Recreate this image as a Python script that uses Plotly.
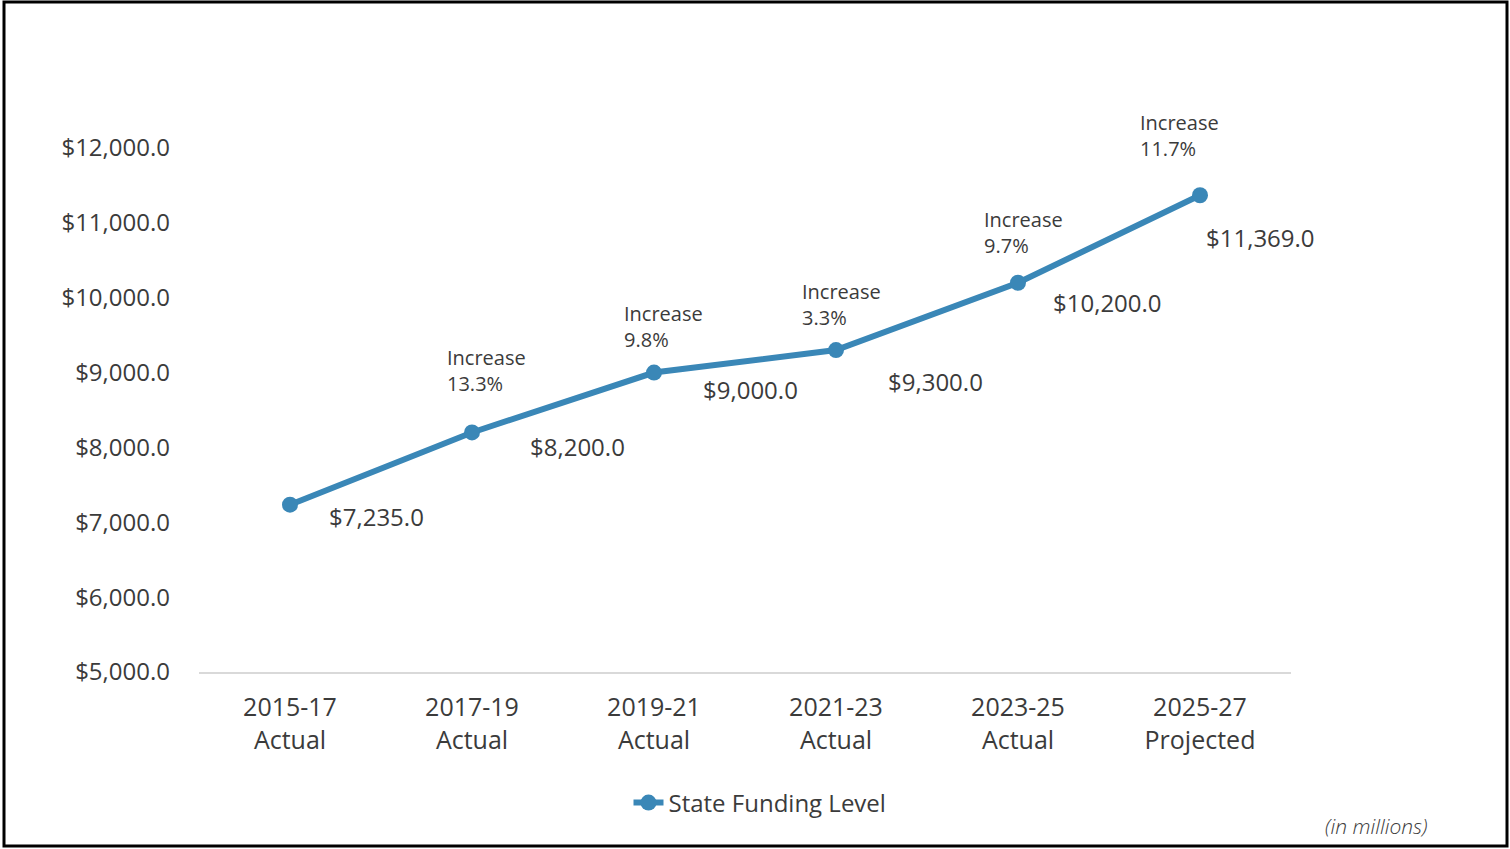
import plotly.graph_objects as go

periods = ["2015-17", "2017-19", "2019-21", "2021-23", "2023-25", "2025-27"]
statuses = ["Actual", "Actual", "Actual", "Actual", "Actual", "Projected"]
funding = [7235.0, 8200.0, 9000.0, 9300.0, 10200.0, 11369.0]
increase_pct = [None, 13.3, 9.8, 3.3, 9.7, 11.7]
y_ticks = [5000, 6000, 7000, 8000, 9000, 10000, 11000, 12000]

categories = [f"{p}<br>{s}" for p, s in zip(periods, statuses)]

LINE = "#3A87B7"
TXT = "#3b3b3b"
FONT = "Open Sans"

# label offsets in pixels (styling only; positive dy = downward)
val_shift = [(86, 12), (105, 14), (96, 17), (99, 31), (89, 20), (60, 42)]
inc_shift = [None, (-27, -62), (-32, -46), (-36, -46), (-36, -50), (-62, -60)]

fig = go.Figure()
fig.add_trace(go.Scatter(
    x=list(range(len(categories))), y=funding, mode="lines+markers",
    name="State Funding Level",
    line=dict(color=LINE, width=6),
    marker=dict(color=LINE, size=16),
    hoverinfo="skip",
))

annotations = []
for i, v in enumerate(funding):
    dx, dy = val_shift[i]
    annotations.append(dict(
        x=i, y=v, xref="x", yref="y", text=f"${v:,.1f}", showarrow=False,
        xshift=dx, yshift=-dy, font=dict(family=FONT, size=24, color=TXT),
        xanchor="center", yanchor="middle",
    ))
    if increase_pct[i] is not None:
        sx, sy = inc_shift[i]
        annotations.append(dict(
            x=i, y=v, xref="x", yref="y",
            text=f"Increase<br>{increase_pct[i]:.1f}%", showarrow=False,
            xshift=sx, yshift=-sy, align="left",
            font=dict(family=FONT, size=20, color=TXT),
            xanchor="left", yanchor="middle",
        ))

annotations.append(dict(
    x=(1430 - 199) / 1092, y=(672 - 826) / 561, xref="paper", yref="paper",
    text="<i>(in millions)</i>", showarrow=False, xanchor="right", yanchor="middle",
    font=dict(family=FONT, size=21, color="#404040", weight=300),
))

fig.update_layout(
    width=1510, height=849,
    margin=dict(l=199, r=219, t=111, b=177),
    paper_bgcolor="white", plot_bgcolor="white",
    font=dict(family=FONT, color=TXT),
    showlegend=True,
    legend=dict(
        orientation="h", x=(760 - 199) / 1092, xanchor="center",
        y=(672 - 803) / 561, yanchor="middle",
        font=dict(family=FONT, size=24, color=TXT),
    ),
    annotations=annotations,
    shapes=[dict(
        type="rect", xref="paper", yref="paper",
        x0=(4 - 199) / 1092, x1=(1507 - 199) / 1092,
        y0=(672 - 846) / 561, y1=(672 - 2) / 561,
        line=dict(color="black", width=3),
    )],
)

fig.update_xaxes(
    range=[-0.5, 5.5], tickmode="array", tickvals=list(range(len(categories))),
    ticktext=categories, showgrid=False, zeroline=False,
    showline=True, linecolor="#d9d9d9", linewidth=2,
    tickfont=dict(family=FONT, size=25, color=TXT), ticks="",
    ticklabelstandoff=12,
)
fig.update_yaxes(
    range=[5000, 5000 + 561 / 74.86 * 1000], tickmode="array", tickvals=y_ticks,
    tickformat="$,.1f", showgrid=False, zeroline=False, showline=False,
    tickfont=dict(family=FONT, size=24, color=TXT), ticks="",
    ticklabelstandoff=28,
)

fig.write_html(
    "out.html",
    config={"displayModeBar": False},
    post_script="document.body.style.margin='0';document.body.style.overflow='hidden';",
)
